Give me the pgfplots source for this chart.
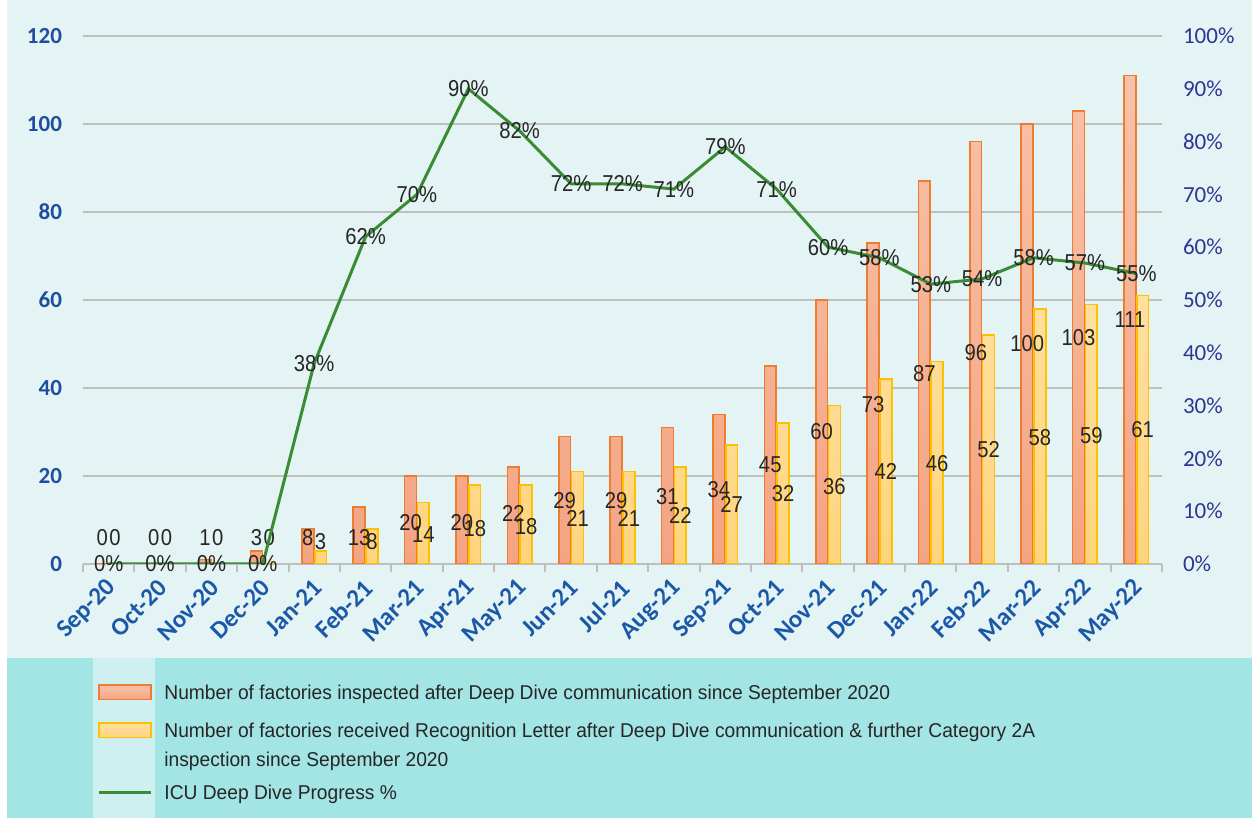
\documentclass[border=0pt]{standalone}
\usepackage{pgfplots}
\pgfplotsset{compat=1.18}
\usepackage{pgfplotstable}
\usepackage{fontspec}
\setmainfont{Liberation Sans}
\newfontfamily\calib{Carlito}
\newfontfamily\labfont[FakeStretch=0.88]{Liberation Sans}
\newfontfamily\legfont[FakeStretch=0.96]{Liberation Sans}

\definecolor{bgtop}{HTML}{E4F4F4}
\definecolor{bgleg}{HTML}{A3E4E4}
\definecolor{bgstripe}{HTML}{CFF0F0}
\definecolor{orTop}{HTML}{F8C2AA}
\definecolor{orBot}{HTML}{F4A482}
\definecolor{oredge}{HTML}{ED7D31}
\definecolor{yeTop}{HTML}{FFE0A0}
\definecolor{yeBot}{HTML}{FFD47E}
\definecolor{yeedge}{HTML}{FFC000}
\definecolor{lgreen}{HTML}{3A8C34}
\definecolor{gridc}{HTML}{BFBFBF}
\definecolor{ltick}{HTML}{1F4E9E}
\definecolor{xtickc}{HTML}{1C58A8}
\definecolor{rtick}{HTML}{2E3592}
\definecolor{labc}{HTML}{262626}

\pgfplotsset{
  boxlegend/.style={legend image code/.code={\draw[##1] (0pt,-3.6pt) rectangle (26pt,3.6pt);}},
  linelegend/.style={legend image code/.code={\draw[##1] (0pt,0pt) -- (26pt,0pt);}},
}
% strut: height above baseline #1, depth below baseline #2 (pt)
\newcommand{\st}[2]{\rule[-#2pt]{0pt}{\dimexpr#1pt+#2pt\relax}}

% x: month index, ins: inspected, rec: recognition letter, pct: progress %
% ly1/ly2: vertical position of the value labels of the two bar series
\pgfplotstableread{
x ins rec pct ly1 ly2
0 0 0 0 6 6
1 0 0 0 6 6
2 1 0 0 6 6
3 3 0 0 6 6
4 8 3 38 6 5
5 13 8 62 6 5
6 20 14 70 9.5 6.6
7 20 18 90 9.5 8
8 22 18 82 11.5 8.4
9 29 21 72 14.3 10.3
10 29 21 72 14.3 10.3
11 31 22 71 15.3 11
12 34 27 79 17 13.5
13 45 32 71 22.5 16
14 60 36 60 30 17.7
15 73 42 58 36.3 21
16 87 46 53 43.3 22.8
17 96 52 54 48 26
18 100 58 58 50 28.8
19 103 59 57 51.5 29.2
20 111 61 55 55.5 30.5
}\data

\begin{document}
\begin{tikzpicture}
\useasboundingbox (0,0) rectangle (626pt,409pt);
\fill[bgtop] (0,80pt) rectangle (626pt,409pt);
\fill[bgleg] (0,0) rectangle (626pt,80pt);
\fill[bgstripe] (46.5pt,0) rectangle (77.5pt,80pt);
\fill[white] (0,0) rectangle (3.5pt,409pt);
\begin{axis}[
  at={(41.5pt,127pt)}, anchor=south west, scale only axis,
  width=539.5pt, height=264pt,
  xmin=-0.5, xmax=20.5, ymin=0, ymax=120,
  axis x line*=bottom, axis y line*=left,
  x axis line style={draw=gridc, line width=1pt},
  y axis line style={draw=none},
  ytick={0,20,...,120}, yticklabels={0,20,40,60,80,100,120},
  ytick style={draw=none},
  ymajorgrids, grid style={gridc, line width=0.9pt},
  xtick={0,...,20},
  xticklabels={Sep-20,Oct-20,Nov-20,Dec-20,Jan-21,Feb-21,Mar-21,Apr-21,May-21,Jun-21,Jul-21,Aug-21,Sep-21,Oct-21,Nov-21,Dec-21,Jan-22,Feb-22,Mar-22,Apr-22,May-22},
  xtick style={draw=none},
  minor xtick={-0.5,0.5,...,20.5},
  minor x tick style={draw=gridc, line width=1pt},
  minor tick length=4pt, major tick length=0pt, tick align=outside,
  yticklabel style={font=\calib\bfseries\fontsize{11.5}{13}\selectfont, text=ltick, xshift=-7pt},
  xticklabel style={font=\calib\bfseries\fontsize{12.5}{14}\selectfont, text=xtickc,
    xshift=4pt, yshift=-7.5pt, rotate=45, anchor=east},
  legend style={at={(0.013,-0.1966)}, anchor=north west, draw=none, fill=none,
    font=\legfont\fontsize{10}{14.5}\selectfont, text=labc, inner sep=0pt,
    nodes={inner sep=0pt, text depth=}, row sep=0pt,
    /tikz/every odd column/.append style={column sep=6pt},
    cells={anchor=west}},
  legend cell align=left,
]
\addplot[ybar, bar width=5.9pt, bar shift=-3.2pt, draw=oredge, line width=0.8pt,
  top color=orTop, bottom color=orBot, boxlegend]
  table[x=x, y=ins] {\data};
\addlegendentry{\st{15.7}{8.5}Number of factories inspected after Deep Dive communication since September 2020}
\addplot[ybar, bar width=5.9pt, bar shift=3.2pt, draw=yeedge, line width=0.8pt,
  top color=yeTop, bottom color=yeBot, boxlegend]
  table[x=x, y=rec] {\data};
\addlegendentry{\st{10.5}{3.3}Number of factories received Recognition Letter after Deep Dive communication \& further Category 2A}
\addlegendimage{empty legend}
\addlegendentry{\st{11.2}{4}inspection since September 2020}
\addlegendimage{lgreen, line width=1.5pt, linelegend}
\addlegendentry{\st{12.5}{5.3}ICU Deep Dive Progress \%}
\addplot[forget plot, draw=none, mark=none, nodes near coords, point meta=explicit symbolic,
  nodes near coords style={anchor=center, xshift=-3.2pt, font=\labfont\fontsize{11.5}{12}\selectfont, text=labc}]
  table[x=x, y=ly1, meta=ins] {\data};
\addplot[forget plot, draw=none, mark=none, nodes near coords, point meta=explicit symbolic,
  nodes near coords style={anchor=center, xshift=3.2pt, font=\labfont\fontsize{11.5}{12}\selectfont, text=labc}]
  table[x=x, y=ly2, meta=rec] {\data};
\end{axis}
\begin{axis}[
  at={(41.5pt,127pt)}, anchor=south west, scale only axis,
  width=539.5pt, height=264pt,
  xmin=-0.5, xmax=20.5, ymin=0, ymax=100,
  axis x line=none, axis y line*=right,
  y axis line style={draw=none},
  ytick={0,10,...,100},
  yticklabels={0\%,10\%,20\%,30\%,40\%,50\%,60\%,70\%,80\%,90\%,100\%},
  ytick style={draw=none}, major tick length=0pt,
  yticklabel style={font=\calib\fontsize{11.5}{13}\selectfont, text=rtick, xshift=7pt},
]
\addplot[lgreen, line width=1.5pt, mark=none, nodes near coords={\pgfplotspointmeta\%},
  point meta=explicit symbolic,
  nodes near coords style={anchor=center, font=\labfont\fontsize{11.5}{12}\selectfont, text=labc}]
  table[x=x, y=pct, meta=pct] {\data};
\end{axis}
\end{tikzpicture}
\end{document}
